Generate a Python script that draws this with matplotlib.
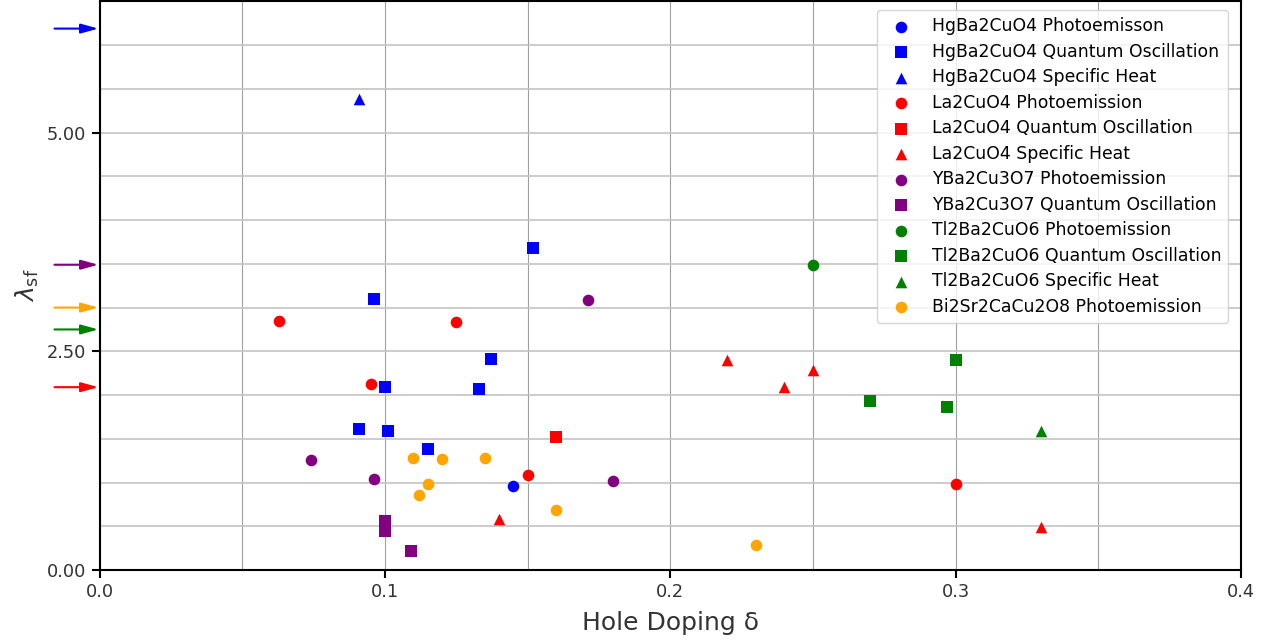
import numpy as np
import matplotlib
matplotlib.use('Agg')
import matplotlib.pyplot as plt
from matplotlib.ticker import MultipleLocator

# %% Data (hole doping, lambda_sf)
hg_pe_x = [0.145]
hg_pe_y = [0.96]
hg_qo_x = [0.152, 0.096, 0.137, 0.100, 0.133, 0.091, 0.101, 0.115]
hg_qo_y = [3.68, 3.10, 2.41, 2.09, 2.07, 1.61, 1.59, 1.38]
hg_sh_x = [0.091]
hg_sh_y = [5.39]

la_pe_x = [0.063, 0.125, 0.095, 0.150, 0.300]
la_pe_y = [2.85, 2.83, 2.13, 1.09, 0.98]
la_qo_x = [0.160]
la_qo_y = [1.52]
la_sh_x = [0.220, 0.250, 0.240, 0.140, 0.330]
la_sh_y = [2.40, 2.29, 2.09, 0.58, 0.49]

y_pe_x = [0.171, 0.074, 0.096, 0.180]
y_pe_y = [3.09, 1.26, 1.04, 1.02]
y_qo_x = [0.100, 0.100, 0.109]
y_qo_y = [0.56, 0.45, 0.22]

tl_pe_x = [0.250]
tl_pe_y = [3.49]
tl_qo_x = [0.300, 0.270, 0.297]
tl_qo_y = [2.40, 1.93, 1.86]
tl_sh_x = [0.330]
tl_sh_y = [1.59]

bi_pe_x = [0.110, 0.120, 0.135, 0.115, 0.112, 0.160, 0.230]
bi_pe_y = [1.28, 1.27, 1.28, 0.98, 0.86, 0.69, 0.29]

# arrows on the left edge
arrow_y = [6.19, 3.49, 3.00, 2.75, 2.09]
arrow_c = ['blue', 'purple', 'orange', 'green', 'red']

series = [
    (hg_pe_x, hg_pe_y, 'blue', 'o', 'HgBa2CuO4 Photoemisson'),
    (hg_qo_x, hg_qo_y, 'blue', 's', 'HgBa2CuO4 Quantum Oscillation'),
    (hg_sh_x, hg_sh_y, 'blue', '^', 'HgBa2CuO4 Specific Heat'),
    (la_pe_x, la_pe_y, 'red', 'o', 'La2CuO4 Photoemission'),
    (la_qo_x, la_qo_y, 'red', 's', 'La2CuO4 Quantum Oscillation'),
    (la_sh_x, la_sh_y, 'red', '^', 'La2CuO4 Specific Heat'),
    (y_pe_x, y_pe_y, 'purple', 'o', 'YBa2Cu3O7 Photoemission'),
    (y_qo_x, y_qo_y, 'purple', 's', 'YBa2Cu3O7 Quantum Oscillation'),
    (tl_pe_x, tl_pe_y, 'green', 'o', 'Tl2Ba2CuO6 Photoemission'),
    (tl_qo_x, tl_qo_y, 'green', 's', 'Tl2Ba2CuO6 Quantum Oscillation'),
    (tl_sh_x, tl_sh_y, 'green', '^', 'Tl2Ba2CuO6 Specific Heat'),
    (bi_pe_x, bi_pe_y, 'orange', 'o', 'Bi2Sr2CaCu2O8 Photoemission'),
]

# %% Plot
fig = plt.figure(figsize=(12.73, 6.41), dpi=100)
ax = fig.add_axes([0.0782, 0.1108, 0.8967, 0.8869])

for xs, ys, c, m, lab in series:
    ax.scatter(xs, ys, c=c, marker=m, s=70, linewidths=0, label=lab, zorder=3)

ax.set_xlim(0, 0.4)
ax.set_ylim(0, 6.5)
ax.xaxis.set_major_locator(MultipleLocator(0.1))
ax.xaxis.set_minor_locator(MultipleLocator(0.05))
ax.yaxis.set_major_locator(MultipleLocator(2.5))
ax.yaxis.set_minor_locator(MultipleLocator(0.5))
ax.xaxis.set_major_formatter(matplotlib.ticker.FormatStrFormatter('%.1f'))
ax.yaxis.set_major_formatter(matplotlib.ticker.FormatStrFormatter('%.2f'))

ax.grid(True, axis='x', which='both', color='#a0a0a0', linewidth=0.8)
ax.grid(True, axis='y', which='both', color='#c4c4c4', linewidth=1.2)
ax.set_axisbelow(True)

ax.tick_params(which='major', direction='out', length=6, width=1.5,
               labelsize=12.8, labelcolor='#333333')
ax.tick_params(which='minor', length=0)
for sp in ax.spines.values():
    sp.set_linewidth(1.5)
    sp.set_color('black')

ax.set_xlabel('Hole Doping δ', fontsize=18, color='#333333', labelpad=7)
ax.set_ylabel(r'$\lambda_{\rm sf}$', fontsize=18, color='#333333')

for yv, c in zip(arrow_y, arrow_c):
    ax.annotate('', xy=(-0.001, yv), xycoords=('axes fraction', 'data'),
                xytext=(-0.0395, yv), textcoords=('axes fraction', 'data'),
                arrowprops=dict(arrowstyle='-|>,head_length=0.8,head_width=0.22',
                                color=c, lw=1.5, mutation_scale=13,
                                shrinkA=0, shrinkB=0),
                annotation_clip=False)

ax.legend(loc='upper right', fontsize=12.4, scatterpoints=1,
          borderaxespad=0.45, labelspacing=0.435,
          bbox_to_anchor=(0.9956, 0.998))

fig.savefig('out.png', dpi=100)
